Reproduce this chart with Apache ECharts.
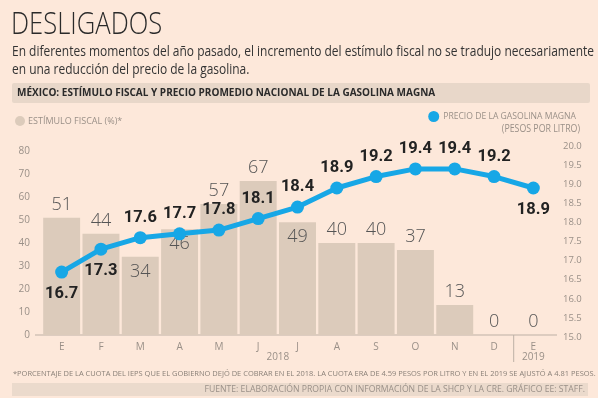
<!DOCTYPE html>
<html>
<head>
<meta charset="utf-8">
<script src="https://cdn.jsdelivr.net/npm/echarts@6/dist/echarts.min.js"></script>
<style>
  html, body { margin: 0; padding: 0; background: #fde8da; }
  #chart { width: 598px; height: 398px; }
</style>
</head>
<body>
<div id="chart"></div>
<script>
var months = ['E', 'F', 'M', 'A', 'M', 'J', 'J', 'A', 'S', 'O', 'N', 'D', 'E'];
var stimulus = [51, 44, 34, 46, 57, 67, 49, 40, 40, 37, 13, 0, 0];
var price = [16.7, 17.3, 17.6, 17.7, 17.8, 18.1, 18.4, 18.9, 19.2, 19.4, 19.4, 19.2, 18.9];
var years = ['2018', '2019'];

var FONT = '"Open Sans", sans-serif';
var BLUE = '#17a7e6';
var BAR = '#dccbbb';
var GREY = '#9a9088';

// which labels sit inside the bar / under the point
var barInside = [2, 3, 6];
var lineBelow = [0, 1, 12];

var barData = stimulus.map(function (v, i) {
	var inside = barInside.indexOf(i) >= 0;
	return { value: v, label: { position: inside ? 'insideTop' : 'top', distance: inside ? 6 : 4 } };
});
var lineData = price.map(function (v, i) {
	var below = lineBelow.indexOf(i) >= 0;
	return { value: v, label: { position: below ? 'bottom' : 'top', distance: below ? 7 : 5 } };
});

var grids = [
	{ left: 42, right: 45, top: 151, bottom: 63 },
	{ left: 42, right: 45, top: 146, bottom: 61 }
];

var option = {
	backgroundColor: '#fde8da',
	animation: false,
	textStyle: { fontFamily: FONT },
	grid: grids,
	legend: [{
		left: 10, top: 111, icon: 'circle', itemWidth: 10, itemHeight: 10, itemGap: 4,
		data: ['ESTÍMULO FISCAL (%)*'],
		textStyle: { color: GREY, fontSize: 9, fontFamily: FONT, padding: [0, 0, 0, -2] }
	}, {
		right: 17, top: 106, icon: 'circle', itemWidth: 11, itemHeight: 11,
		data: ['PRECIO DE LA GASOLINA MAGNA'],
		textStyle: { color: GREY, fontSize: 8.6, fontFamily: FONT, padding: [0, 0, 0, -1] }
	}],
	xAxis: [{
		type: 'category', gridIndex: 0, data: months,
		axisLine: { show: false }, axisTick: { show: false },
		axisLabel: { color: GREY, fontSize: 10, margin: 7, fontFamily: FONT }
	}, {
		type: 'category', gridIndex: 1, data: months, show: false
	}],
	yAxis: [{
		type: 'value', gridIndex: 0, min: 0, max: 80, interval: 10,
		splitLine: { show: false }, axisLine: { show: false }, axisTick: { show: false },
		axisLabel: { color: GREY, fontSize: 10, margin: 12, fontFamily: FONT }
	}, {
		type: 'value', gridIndex: 1, position: 'right', min: 15, max: 20, interval: 0.5,
		splitLine: { show: false }, axisLine: { show: false }, axisTick: { show: false },
		axisLabel: {
			color: GREY, fontSize: 9.5, margin: 10, fontFamily: FONT,
			formatter: function (v) { return v.toFixed(1); }
		}
	}],
	series: [{
		name: 'ESTÍMULO FISCAL (%)*',
		type: 'bar', xAxisIndex: 0, yAxisIndex: 0,
		data: barData,
		barCategoryGap: '6%',
		itemStyle: { color: BAR },
		label: { show: true, color: '#555', fontSize: 18, fontFamily: FONT, fontWeight: 300 },
		z: 1
	}, {
		name: 'PRECIO DE LA GASOLINA MAGNA',
		type: 'line', xAxisIndex: 1, yAxisIndex: 1,
		data: lineData,
		symbol: 'circle', symbolSize: 13,
		itemStyle: { color: BLUE },
		lineStyle: { color: BLUE, width: 5 },
		label: { show: true, color: '#222', fontSize: 16.5, fontWeight: 'bold', fontFamily: 'Roboto, sans-serif' },
		z: 3
	}]
};

var chart = echarts.init(document.getElementById('chart'), null, { renderer: 'canvas' });
chart.setOption(option);

// decoration placed from the axes
var x0 = chart.convertToPixel({ xAxisIndex: 0 }, 0);
var band = chart.convertToPixel({ xAxisIndex: 0 }, 1) - x0;
var yBase = chart.convertToPixel({ yAxisIndex: 0 }, 0);
var sepX = x0 + band * 11.5;

// narrow text: the original uses a condensed face, so squeeze horizontally
function txt(x, y, text, size, extra, sx) {
	return {
		type: 'text', x: x, y: y, scaleX: sx || 1,
		style: Object.assign({ text: text, fontSize: size, fontFamily: FONT, fill: GREY, verticalAlign: 'middle' }, extra || {})
	};
}

chart.setOption({
	graphic: [
		txt(11, 25, 'DESLIGADOS', 32, { fontWeight: 300, fill: '#2a2a2a' }, 0.8),
		txt(12, 52, 'En diferentes momentos del año pasado, el incremento del estímulo fiscal no se tradujo necesariamente', 14, { fill: '#333' }, 0.855),
		txt(12, 70, 'en una reducción del precio de la gasolina.', 14, { fill: '#333' }, 0.855),
		{ type: 'rect', shape: { x: 12, y: 83, width: 578, height: 20, r: 2 }, style: { fill: '#e8d7c9' } },
		txt(17, 93.5, 'MÉXICO: ESTÍMULO FISCAL Y PRECIO PROMEDIO NACIONAL DE LA GASOLINA MAGNA', 10, { fontWeight: 'bold', fill: '#2a2a2a' }),
		txt(580, 129.5, '(PESOS POR LITRO)', 10, { align: 'right' }, 0.88),
		{ type: 'line', shape: { x1: 35, y1: yBase, x2: 557, y2: yBase }, style: { stroke: '#bdb0a5', lineWidth: 1 } },
		{ type: 'line', shape: { x1: sepX, y1: yBase, x2: sepX, y2: yBase + 27 }, style: { stroke: '#bdb0a5', lineWidth: 1 } },
		txt(x0 + band * 5.5, yBase + 22, years[0], 10, { align: 'center' }),
		txt(x0 + band * 12, yBase + 22, years[1], 10, { align: 'center' }),
		txt(13, 374, '*PORCENTAJE DE LA CUOTA DEL IEPS QUE EL GOBIERNO DEJÓ DE COBRAR EN EL 2018. LA CUOTA ERA DE 4.59 PESOS POR LITRO Y EN EL 2019 SE AJUSTÓ A 4.81 PESOS.', 8, { fill: '#8a8078' }, 0.935),
		{ type: 'rect', shape: { x: 12, y: 383, width: 576, height: 13 }, style: { fill: '#ebdacc' } },
		txt(585, 389.5, 'FUENTE: ELABORACIÓN PROPIA CON INFORMACIÓN DE LA SHCP Y LA CRE. GRÁFICO EE: STAFF.', 9.5, { align: 'right' }, 0.91)
	]
});
</script>
</body>
</html>
